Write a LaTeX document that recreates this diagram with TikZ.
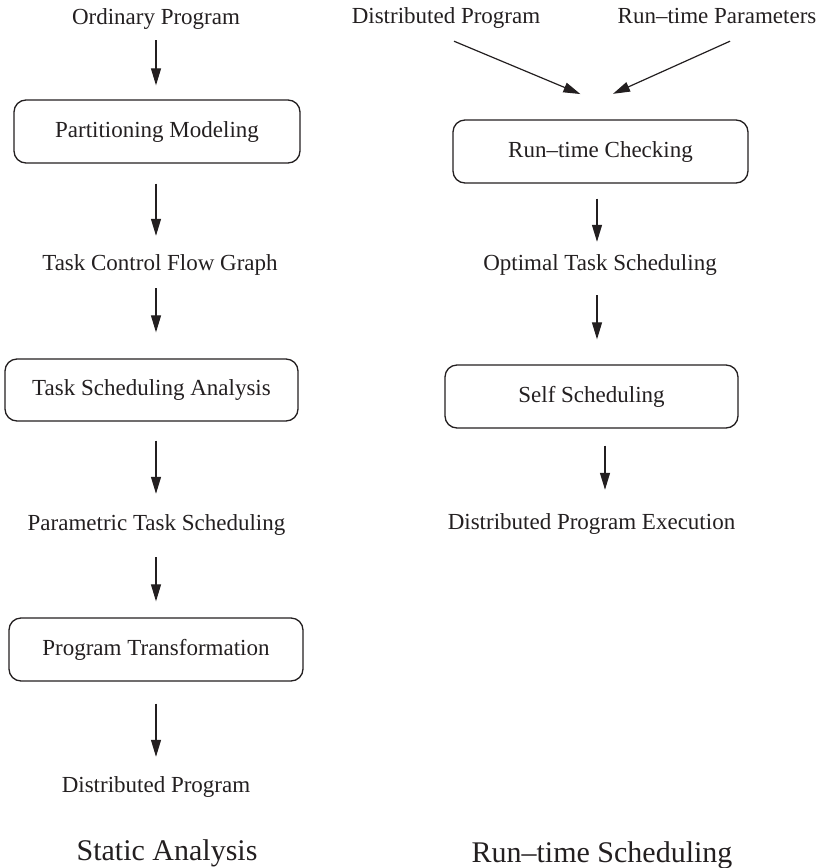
\documentclass[tikz,border=0pt]{standalone}
\usepackage{fontspec}
\setmainfont{Liberation Serif}
\usetikzlibrary{arrows.meta}
\definecolor{ink}{RGB}{35,31,32}
\begin{document}
\begin{tikzpicture}[x=1pt,y=-1pt,
  every node/.style={text=ink, font=\fontsize{23}{27}\selectfont,
    inner sep=0pt, text height=16pt, text depth=5pt},
  txt/.style={anchor=base},
  stage/.style={draw=ink, line width=1.3pt, rounded corners=12pt,
    minimum height=63pt, anchor=center},
  title/.style={anchor=base, font=\fontsize{30}{36}\selectfont,
    text height=21pt, text depth=7pt},
  flow/.style={draw=ink, line width=1.2pt,
    -{Triangle[length=17pt,width=10pt]}}]
\useasboundingbox (0,0) rectangle (820,868);

% static analysis column
\node[txt] (op) at (156,24) {Ordinary Program};
\node[stage, minimum width=286pt] (pm) at (157,131.5) {Partitioning Modeling};
\node[txt] (tcfg) at (160,270) {Task Control Flow Graph};
\node[stage, minimum width=293pt, minimum height=62pt] (tsa) at (151.5,390) {Task Scheduling Analysis};
\node[txt] (pts) at (156.5,530) {Parametric Task Scheduling};
\node[stage, minimum width=294pt] (pt) at (156,649.5) {Program Transformation};
\node[txt] (dp) at (156,792) {Distributed Program};
\node[title] (sa) at (167,860) {Static Analysis};

\draw[flow, shorten <=11pt, shorten >=14pt] (op.south) -- (op.south |- pm.north);
\draw[flow, shorten <=20pt, shorten >=18pt] (pm.south -| op.south) -- (tcfg.north -| op.south);
\draw[flow, shorten <=13pt, shorten >=26pt] (tcfg.south -| op.south) -- (tsa.north -| op.south);
\draw[flow, shorten <=19pt, shorten >=20pt] (tsa.south -| op.south) -- (pts.north -| op.south);
\draw[flow, shorten <=22pt, shorten >=16pt] (pts.south -| op.south) -- (pt.north -| op.south);
\draw[flow, shorten <=22pt, shorten >=19pt] (pt.south -| op.south) -- (dp.north -| op.south);

% run-time scheduling column
\node[txt] (dpr) at (446,23) {Distributed Program};
\node[txt] (rtp) at (717,23) {Run–time Parameters};
\coordinate (m) at (597,101);
\node[stage, minimum width=295pt] (rtc) at (600.5,151.5) {Run–time Checking};
\node[txt] (ots) at (600,270) {Optimal Task Scheduling};
\node[stage, minimum width=293pt] (ss) at (591.5,396.5) {Self Scheduling};
\node[txt] (dpe) at (591.5,529) {Distributed Program Execution};
\node[title] (rts) at (602,862) {Run–time Scheduling};

\draw[flow, shorten >=18pt] ([shift={(8,13)}]dpr.south) -- (m);
\draw[flow, shorten >=17.5pt] ([shift={(13,13)}]rtp.south) -- (m);
\draw[flow, shorten <=15pt, shorten >=12pt] (rtc.south -| m) -- (ots.north -| m);
\draw[flow, shorten <=20pt, shorten >=25pt] (ots.south -| m) -- (ss.north -| m);
\draw[flow, shorten <=17pt, shorten >=23pt] ([xshift=13.5pt]ss.south) -- ([xshift=13.5pt]ss.south |- dpe.north);
\end{tikzpicture}
\end{document}
